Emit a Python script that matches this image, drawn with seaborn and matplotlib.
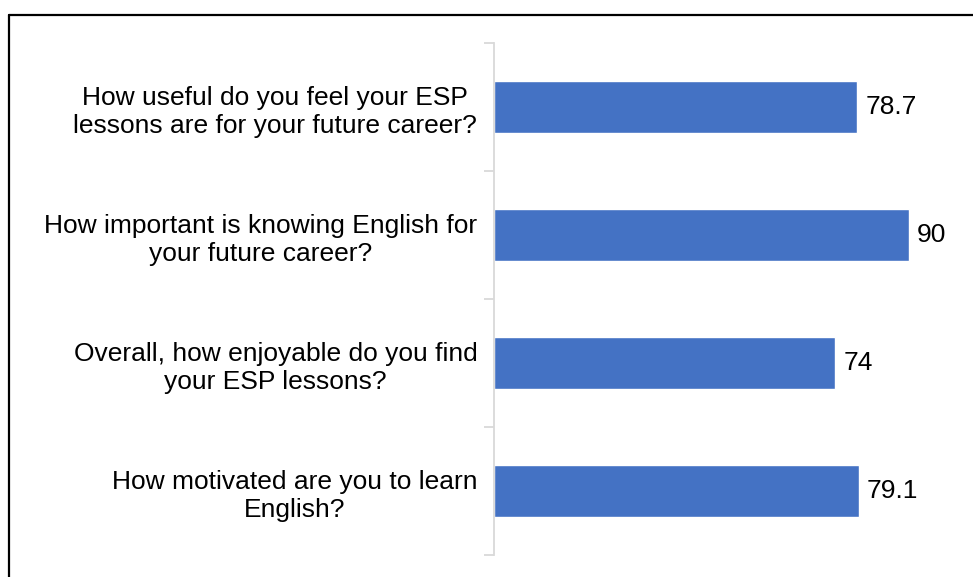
import matplotlib
matplotlib.use("Agg")
import matplotlib.pyplot as plt
from matplotlib.lines import Line2D
import seaborn as sns
import pandas as pd

questions = [
    "How useful do you feel your ESP\nlessons are for your future career?",
    "How important is knowing English for\nyour future career?",
    "Overall, how enjoyable do you find\nyour ESP lessons?",
    "How motivated are you to learn\nEnglish?",
]
scores = [78.7, 90, 74, 79.1]

sns.set_theme(style="white")
plt.rcParams["font.family"] = ["Liberation Sans", "DejaVu Sans"]

df = pd.DataFrame({"question": questions, "score": scores})

fig = plt.figure(figsize=(9.73, 5.77), dpi=100)
ax = fig.add_axes([494 / 973, 1 - 555 / 577, (955 - 494) / 973, (555 - 43) / 577])

sns.barplot(data=df, x="score", y="question", color="#4472C4", width=0.4,
            saturation=1, ax=ax, orient="h")

ax.set_xlim(0, 100)
ax.set_ylim(len(questions) - 0.5, -0.5)
ax.set_xlabel("")
ax.set_ylabel("")
ax.set_xticks([])

for side in ("top", "right", "bottom"):
    ax.spines[side].set_visible(False)
ax.spines["left"].set_color("#d9d9d9")
ax.spines["left"].set_linewidth(1.3)

# category separators as outward minor ticks on the value axis
ax.set_yticks([i - 0.5 for i in range(len(questions) + 1)], minor=True)
ax.tick_params(axis="y", which="minor", length=7, width=1.3, color="#d9d9d9",
               direction="out", left=True)
ax.tick_params(axis="y", which="major", length=0, pad=12, labelsize=19,
               labelcolor="black")
for lbl in ax.get_yticklabels():
    lbl.set_multialignment("center")
    lbl.set_linespacing(1.25)

for cont in ax.containers:
    ax.bar_label(cont, labels=[f"{v:g}" for v in scores], padding=6,
                 fontsize=19, color="black")

# outer frame (open on right and bottom edges)
fig.add_artist(Line2D([8.5 / 973, 1.0], [1 - 14.5 / 577] * 2,
                      transform=fig.transFigure, color="black", lw=1.6))
fig.add_artist(Line2D([8.5 / 973] * 2, [0.0, 1 - 14.5 / 577],
                      transform=fig.transFigure, color="black", lw=1.6))

fig.savefig("out.png", dpi=100)
